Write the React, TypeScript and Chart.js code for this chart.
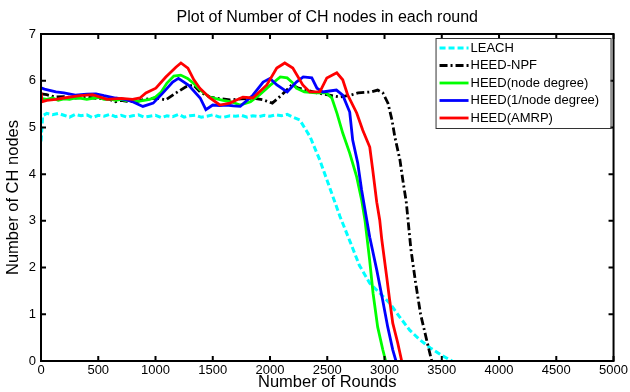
import React, { useEffect, useRef } from "react";
import { Chart, registerables } from "chart.js";

Chart.register(...registerables);

const FONT = '"Liberation Sans", Arial, Helvetica, sans-serif';

const TITLE = "Plot of Number of CH nodes in each round";
const X_LABEL = "Number of Rounds";
const Y_LABEL = "Number of CH nodes";
const X_TICKS = [0, 500, 1000, 1500, 2000, 2500, 3000, 3500, 4000, 4500, 5000];
const Y_TICKS = [0, 1, 2, 3, 4, 5, 6, 7];

const SERIES_NAMES = ["LEACH", "HEED-NPF", "HEED(node degree)", "HEED(1/node degree)", "HEED(AMRP)"];

const leachX = [0, 15, 50, 100, 150, 200, 250, 300, 350, 400, 450, 500, 550, 600, 650, 700, 750, 800, 850, 900, 950, 1000, 1050, 1100, 1150, 1200, 1250, 1300, 1350, 1400, 1450, 1500, 1550, 1600, 1650, 1700, 1750, 1800, 1850, 1900, 1950, 2000, 2050, 2100, 2150, 2200, 2260, 2350, 2435, 2520, 2610, 2700, 2780, 2870, 2960, 3045, 3130, 3220, 3310, 3400, 3500, 3590];
const leachY = [4.7, 5.25, 5.3, 5.27, 5.3, 5.26, 5.22, 5.28, 5.25, 5.27, 5.21, 5.26, 5.24, 5.28, 5.23, 5.26, 5.22, 5.25, 5.27, 5.22, 5.24, 5.26, 5.21, 5.25, 5.23, 5.28, 5.22, 5.25, 5.26, 5.22, 5.24, 5.27, 5.23, 5.22, 5.25, 5.24, 5.26, 5.22, 5.25, 5.23, 5.26, 5.24, 5.27, 5.25, 5.28, 5.22, 5.16, 4.8, 4.3, 3.72, 3.1, 2.55, 2.05, 1.67, 1.45, 1.24, 0.95, 0.66, 0.45, 0.28, 0.12, 0];

const npfX = [0, 50, 130, 200, 300, 400, 500, 600, 650, 700, 750, 830, 900, 1000, 1090, 1180, 1265, 1330, 1390, 1475, 1550, 1650, 1750, 1850, 1940, 2020, 2100, 2190, 2250, 2320, 2410, 2520, 2610, 2700, 2770, 2880, 2940, 2985, 3030, 3065, 3090, 3135, 3160, 3190, 3230, 3270, 3315, 3368, 3412];
const npfY = [5.72, 5.7, 5.65, 5.66, 5.63, 5.65, 5.62, 5.6, 5.55, 5.58, 5.56, 5.55, 5.6, 5.63, 5.59, 5.74, 5.87, 5.91, 5.76, 5.65, 5.62, 5.59, 5.61, 5.63, 5.59, 5.52, 5.69, 5.91, 5.84, 5.8, 5.74, 5.69, 5.65, 5.69, 5.74, 5.76, 5.8, 5.74, 5.52, 5.16, 4.8, 4.3, 3.87, 3.4, 2.4, 1.7, 1.0, 0.45, 0];

const greenX = [0, 50, 100, 150, 200, 250, 300, 350, 400, 450, 500, 550, 600, 650, 700, 750, 800, 850, 900, 950, 1000, 1050, 1100, 1160, 1220, 1280, 1330, 1390, 1470, 1590, 1660, 1740, 1830, 1910, 2000, 2090, 2150, 2200, 2230, 2300, 2400, 2490, 2540, 2585, 2635, 2696, 2757, 2800, 2830, 2870, 2900, 2940, 2985, 3010];
const greenY = [5.62, 5.6, 5.63, 5.58, 5.61, 5.6, 5.63, 5.62, 5.6, 5.62, 5.64, 5.6, 5.61, 5.58, 5.6, 5.57, 5.6, 5.56, 5.58, 5.6, 5.65, 5.76, 5.95, 6.1, 6.12, 6.05, 5.95, 5.8, 5.65, 5.58, 5.55, 5.48, 5.55, 5.7, 5.9, 6.08, 6.06, 5.95, 5.84, 5.76, 5.74, 5.74, 5.63, 5.3, 4.88, 4.45, 3.94, 3.45, 3.0, 2.16, 1.45, 0.73, 0.24, 0];

const blueX = [0, 30, 130, 200, 300, 400, 480, 550, 650, 730, 800, 890, 980, 1065, 1150, 1200, 1290, 1390, 1440, 1500, 1560, 1620, 1680, 1740, 1850, 1940, 2000, 2060, 2150, 2230, 2290, 2365, 2410, 2460, 2520, 2580, 2635, 2696, 2722, 2766, 2800, 2845, 2871, 2932, 2984, 3028, 3072, 3100];
const blueY = [5.85, 5.82, 5.76, 5.74, 5.69, 5.71, 5.72, 5.68, 5.63, 5.6, 5.55, 5.45, 5.52, 5.74, 5.97, 6.05, 5.9, 5.63, 5.38, 5.48, 5.47, 5.48, 5.46, 5.45, 5.69, 5.97, 6.05, 5.91, 5.76, 5.97, 6.08, 6.06, 5.84, 5.76, 5.78, 5.8, 5.69, 5.33, 4.73, 4.24, 3.66, 3.02, 2.65, 1.95, 1.3, 0.73, 0.24, 0];

const redX = [0, 10, 50, 130, 200, 340, 450, 576, 700, 800, 864, 916, 1003, 1090, 1178, 1222, 1283, 1335, 1387, 1475, 1562, 1649, 1763, 1850, 1972, 2059, 2129, 2199, 2286, 2347, 2435, 2496, 2583, 2635, 2679, 2757, 2810, 2871, 2897, 2932, 2958, 2976, 3019, 3045, 3072, 3115, 3150];
const redY = [5.75, 5.55, 5.58, 5.6, 5.63, 5.68, 5.7, 5.6, 5.62, 5.6, 5.63, 5.74, 5.84, 6.08, 6.29, 6.38, 6.27, 6.02, 5.84, 5.63, 5.48, 5.52, 5.65, 5.63, 5.91, 6.27, 6.38, 6.27, 5.91, 5.76, 5.76, 6.06, 6.17, 6.02, 5.69, 5.31, 4.94, 4.58, 4.09, 3.4, 3.02, 2.6, 1.8, 1.3, 0.81, 0.39, 0];

const COLORS = ["#00FFFF", "#000000", "#00FF00", "#0000FF", "#FF0000"];
const DASHES = [[6, 3], [8, 3, 2, 3], [], [], []];
const WIDTHS = [3, 2.8, 2.8, 2.8, 2.8];

const toPoints = (xs: number[], ys: number[]) => xs.map((x, i) => ({ x, y: ys[i] }));

const matlabPlugin = {
  id: "matlabDecor",
  afterDraw(chart: any) {
    const { ctx, chartArea } = chart;
    const { left, right, top, bottom } = chartArea;
    const xs = chart.scales.x;
    const ys = chart.scales.y;
    ctx.save();
    ctx.setLineDash([]);
    ctx.strokeStyle = "#000";
    ctx.lineWidth = 2;
    ctx.strokeRect(left, top, right - left, bottom - top);
    const tl = 5;
    X_TICKS.forEach((v) => {
      const px = xs.getPixelForValue(v);
      ctx.beginPath();
      ctx.moveTo(px, bottom);
      ctx.lineTo(px, bottom - tl);
      ctx.moveTo(px, top);
      ctx.lineTo(px, top + tl);
      ctx.stroke();
    });
    Y_TICKS.forEach((v) => {
      const py = ys.getPixelForValue(v);
      ctx.beginPath();
      ctx.moveTo(left, py);
      ctx.lineTo(left + tl, py);
      ctx.moveTo(right, py);
      ctx.lineTo(right - tl, py);
      ctx.stroke();
    });
    ctx.fillStyle = "#000";
    ctx.font = `16px ${FONT}`;
    ctx.textAlign = "center";
    ctx.textBaseline = "middle";
    ctx.fillText(TITLE, (left + right) / 2, 18);
    const lw = 175;
    const lh = 90;
    const lx = right - 3 - lw;
    const ly = top + 4;
    ctx.fillStyle = "#fff";
    ctx.fillRect(lx, ly, lw, lh);
    ctx.strokeStyle = "#333";
    ctx.lineWidth = 1;
    ctx.strokeRect(lx + 0.5, ly + 0.5, lw, lh);
    ctx.font = `13px ${FONT}`;
    ctx.textAlign = "left";
    chart.data.datasets.forEach((ds: any, i: number) => {
      const rowY = ly + 10 + i * 17.5;
      ctx.beginPath();
      ctx.setLineDash(ds.borderDash || []);
      ctx.strokeStyle = ds.borderColor;
      ctx.lineWidth = ds.borderWidth;
      ctx.moveTo(lx + 4, rowY);
      ctx.lineTo(lx + 33, rowY);
      ctx.stroke();
      ctx.setLineDash([]);
      ctx.fillStyle = "#000";
      ctx.fillText(ds.label, lx + 35, rowY);
    });
    ctx.restore();
  },
};

export default function App() {
  const canvasRef = useRef<HTMLCanvasElement | null>(null);

  useEffect(() => {
    const canvas = canvasRef.current;
    if (!canvas) return;
    const seriesX = [leachX, npfX, greenX, blueX, redX];
    const seriesY = [leachY, npfY, greenY, blueY, redY];
    const datasets = SERIES_NAMES.map((name, i) => ({
      label: name,
      data: toPoints(seriesX[i], seriesY[i]),
      borderColor: COLORS[i],
      backgroundColor: COLORS[i],
      borderWidth: WIDTHS[i],
      borderDash: DASHES[i],
      pointRadius: 0,
      tension: 0,
      fill: false,
      order: 5 - i,
    }));
    const chart = new Chart(canvas, {
      type: "line",
      data: { datasets },
      plugins: [matlabPlugin],
      options: {
        responsive: false,
        animation: false,
        layout: { padding: { top: 34, right: 16, left: 0, bottom: 0 } },
        plugins: { legend: { display: false }, title: { display: false }, tooltip: { enabled: false } },
        scales: {
          x: {
            type: "linear",
            min: 0,
            max: 5000,
            afterFit: (s: any) => {
              s.height = 31;
            },
            afterBuildTicks: (s: any) => {
              s.ticks = X_TICKS.map((v) => ({ value: v }));
            },
            grid: { display: false, drawTicks: false },
            border: { display: false },
            ticks: { color: "#000", font: { family: FONT, size: 13 }, padding: 2, maxRotation: 0, autoSkip: false, callback: (v: any) => String(v) },
            title: { display: true, text: X_LABEL, color: "#000", font: { family: FONT, size: 16.5 }, padding: { top: 0, bottom: 0 } },
          },
          y: {
            type: "linear",
            min: 0,
            max: 7,
            afterFit: (s: any) => {
              s.width = 41;
            },
            afterBuildTicks: (s: any) => {
              s.ticks = Y_TICKS.map((v) => ({ value: v }));
            },
            grid: { display: false, drawTicks: false },
            border: { display: false },
            ticks: { color: "#000", font: { family: FONT, size: 13 }, padding: 5, autoSkip: false, callback: (v: any) => String(v) },
            title: { display: true, text: Y_LABEL, color: "#000", font: { family: FONT, size: 16.5 }, padding: { top: 4, bottom: 0 } },
          },
        },
      },
    });
    return () => chart.destroy();
  }, []);

  return (
    <div style={{ position: "absolute", left: 0, top: 0, width: 630, height: 392, background: "#fff" }}>
      <canvas ref={canvasRef} width={630} height={392} />
    </div>
  );
}
